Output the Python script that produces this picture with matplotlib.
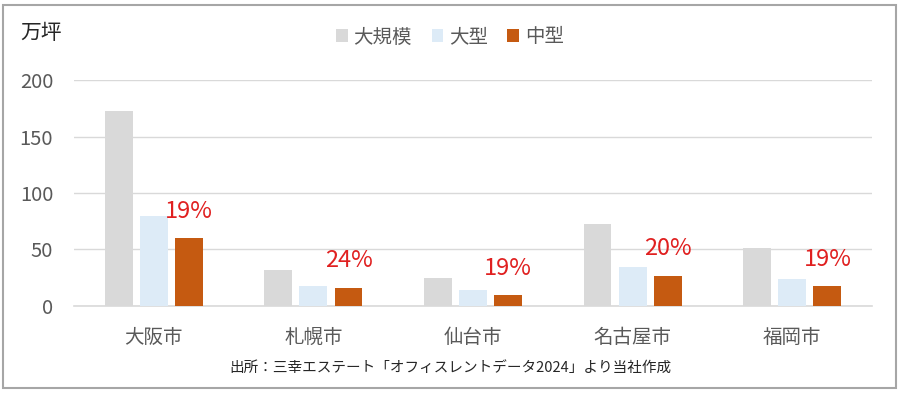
import numpy as np
import matplotlib
matplotlib.use('Agg')
import matplotlib.pyplot as plt
from matplotlib.patches import Rectangle

plt.rcParams['font.family'] = ['Noto Sans CJK JP', 'DejaVu Sans']

cities = ['大阪市', '札幌市', '仙台市', '名古屋市', '福岡市']
large_scale = [173, 32, 25, 72.5, 51]
large = [80, 17.5, 14, 34.5, 24]
medium = [60, 16, 9.5, 26.5, 17.5]
share_labels = ['19%', '24%', '19%', '20%', '19%']

series_names = ['大規模', '大型', '中型']
colors = ['#D9D9D9', '#DDEBF7', '#C55A11']
text_gray = '#595959'

fig = plt.figure(figsize=(9, 3.93), dpi=100)
ax = fig.add_axes([0.0822, 0.2214, 0.8867, 0.575])

x = np.arange(len(cities))
w = 0.175
step = 0.22
for i, (vals, c, name) in enumerate(zip([large_scale, large, medium], colors, series_names)):
    ax.bar(x + (i - 1) * step, vals, width=w, color=c, label=name, zorder=3)

for xi, v, lab in zip(x, medium, share_labels):
    ax.annotate(lab, (xi + step, v), xytext=(0, 19.5), textcoords='offset points',
                ha='center', va='center', color='#E02020', fontsize=17)

ax.set_xlim(-0.5, len(cities) - 0.5)
ax.set_ylim(0, 200)
ax.set_yticks([0, 50, 100, 150, 200])
ax.set_xticks(x)
ax.set_xticklabels(cities)
ax.tick_params(axis='both', length=0, colors=text_gray)
ax.tick_params(axis='x', pad=15, labelsize=14)
ax.tick_params(axis='y', pad=15, labelsize=14.5)
ax.grid(axis='y', color='#D9D9D9', linewidth=1, zorder=0)
for s in ['top', 'right', 'left']:
    ax.spines[s].set_visible(False)
ax.spines['bottom'].set_color('#D9D9D9')
ax.spines['bottom'].set_linewidth(1.2)

fig.text(20 / 900, 1 - 33 / 393, '万坪', fontsize=15, color='#262626', va='center', ha='left')

fig.legend(loc='center', bbox_to_anchor=(0.5, 1 - 37 / 393), ncol=3, frameon=False,
           fontsize=14, handlelength=0.6, handleheight=0.6, handletextpad=0.3,
           columnspacing=1.0, labelcolor=text_gray)

fig.text(0.5, 1 - 369 / 393, '出所：三幸エステート「オフィスレントデータ2024」より当社作成',
         fontsize=10.5, color='#262626', ha='center', va='center')

fig.patches.append(Rectangle((3 / 900, 5 / 393), 893 / 900, 383 / 393, transform=fig.transFigure,
                             fill=False, edgecolor='#A6A6A6', linewidth=1.5))

fig.savefig('out.png', dpi=100)
